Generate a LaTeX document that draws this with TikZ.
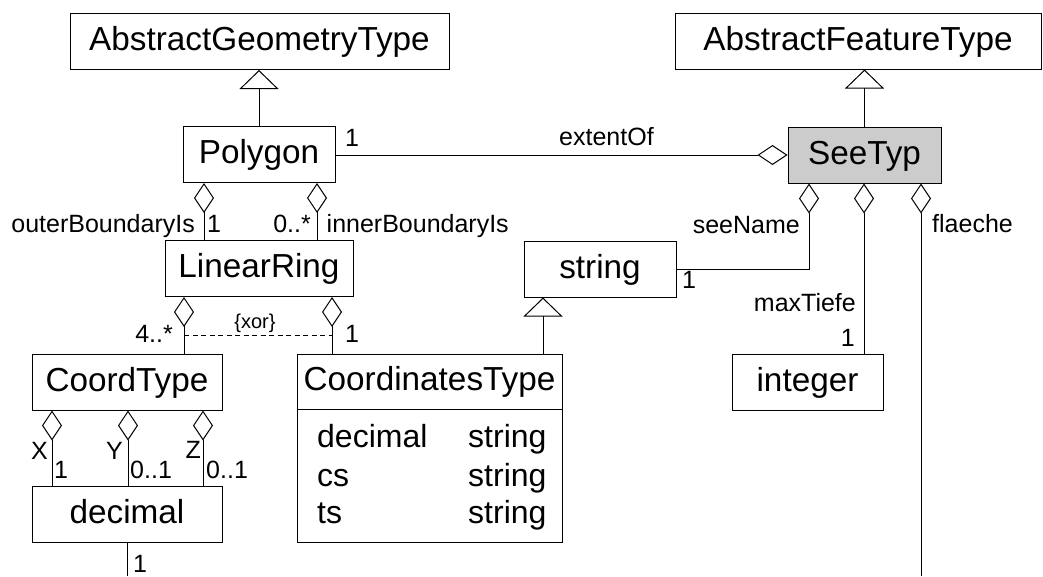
\documentclass[tikz,border=0pt]{standalone}
\usepackage{fontspec}
\setmainfont{Liberation Sans}
\usetikzlibrary{arrows.meta,calc}
\definecolor{seefill}{RGB}{204,204,204}
\begin{document}
\begin{tikzpicture}[x=1pt,y=-1pt,
  conn/.style={line width=1pt},
  box/.style={draw, line width=1pt, inner sep=0pt, minimum height=56pt,
    font=\fontsize{33.3}{40}\selectfont, text height=18pt, text depth=0pt},
  title/.style={inner sep=0pt, font=\fontsize{33.3}{40}\selectfont, text height=18pt, text depth=0pt},
  attr/.style={inner sep=0pt, font=\fontsize{32}{38}\selectfont, anchor=base west},
  lbl/.style={inner sep=0pt, font=\fontsize{25}{30}\selectfont},
  xorlbl/.style={inner sep=0pt, font=\fontsize{20}{24}\selectfont, anchor=base},
  agg/.style={conn, {Diamond[open,length=30pt,width=20pt]}-},
  gen/.style={conn, -{Triangle[open,length=19pt,width=39pt]}}]
\useasboundingbox (0,0) rectangle (1043,576);

% classes
\node[box, minimum width=379pt] (ageo)  at (259.5,41.5) {AbstractGeometryType};
\node[box, minimum width=366pt] (afeat) at (858,41)     {AbstractFeatureType};
\node[box, minimum width=152pt] (poly)  at (259,154.5)  {Polygon};
\node[box, minimum width=153pt, fill=seefill] (see) at (864.5,155) {SeeTyp};
\node[box, minimum width=188pt] (lring) at (259,268.5)  {LinearRing};
\node[box, minimum width=152pt] (str)   at (600,269)    {string};
\node[box, minimum width=190pt] (ctype) at (127,382)    {CoordType};
\node[box, minimum width=151pt] (int)   at (807.5,382)  {integer};
\node[box, minimum width=190pt] (dec)   at (127,514)    {decimal};

% class with attribute compartment
\node[box, minimum width=265pt, minimum height=188pt] (coords) at (429.5,448) {};
\node[title] (coordsT) at ([yshift=-28pt]coords.north) {CoordinatesType};
\draw[conn] ([yshift=-56pt]coords.north west) -- ([yshift=-56pt]coords.north east);
\node[attr] (a1n) at (317,447) {decimal};
\node[attr] (a1t) at (468,447) {string};
\node[attr] (a2n) at (317,486) {cs};
\node[attr] (a2t) at (468,486) {string};
\node[attr] (a3n) at (317,523) {ts};
\node[attr] (a3t) at (468,523) {string};

% attachment points
\coordinate (pA) at ([xshift=-55pt]poly.south);
\coordinate (pB) at ([xshift=58pt]poly.south);
\coordinate (lA) at ([xshift=-75pt]lring.south);
\coordinate (lB) at ([xshift=73pt]lring.south);
\coordinate (cX) at ([xshift=-75pt]ctype.south);
\coordinate (cY) at ([xshift=1pt]ctype.south);
\coordinate (cZ) at ([xshift=76pt]ctype.south);
\coordinate (sA) at ([xshift=-55.5pt]see.south);
\coordinate (sB) at ([xshift=-0.5pt]see.south);
\coordinate (sC) at ([xshift=56.5pt]see.south);
\coordinate (g3) at ([xshift=-57pt]str.south);
\coordinate (flEnd) at (921,576);
\coordinate (decEnd) at (128,576);

% generalizations
\draw[gen] (poly.north) -- (poly.north |- ageo.south);
\draw[gen] (see.north) -- (see.north |- afeat.south);
\draw[gen] (g3 |- coords.north) -- (g3);

% aggregations
\draw[agg] (see.west) -- (see.west -| poly.east);
\draw[agg] (pA) -- (pA |- lring.north);
\draw[agg] (pB) -- (pB |- lring.north);
\draw[agg] (lA) -- (lA |- ctype.north);
\draw[agg] (lB) -- (lB |- coords.north);
\draw[agg] (cX) -- (cX |- dec.north);
\draw[agg] (cY) -- (cY |- dec.north);
\draw[agg] (cZ) -- (cZ |- dec.north);
\draw[agg] (sA) |- (str.east);
\draw[agg] (sB) -- (sB |- int.north);
\draw[agg] (sC) -- (sC |- flEnd);
\draw[conn] (dec.south) -- (dec.south |- decEnd);

% xor constraint
\coordinate (xl) at ([yshift=-38pt]lA);
\coordinate (xr) at ([yshift=-38pt]lB);
\draw[line width=0.8pt, dash pattern=on 5pt off 3.5pt] (xl) -- (xr);
\node[xorlbl] (xor) at ($(xl)!0.5!(xr)+(-3,-6.5)$) {\{xor\}};

% role names and multiplicities
\node[lbl, anchor=base west] (m1)  at (345,146) {1};
\node[lbl, anchor=base west] (r1)  at (559,145) {extentOf};
\node[lbl, anchor=base east] (r2)  at (195,232) {outerBoundaryIs};
\node[lbl, anchor=base west] (m2)  at (207,232) {1};
\node[lbl, anchor=base east] (m3)  at (311,232) {0..*};
\node[lbl, anchor=base west] (r3)  at (326.5,232) {innerBoundaryIs};
\node[lbl, anchor=base east] (m4)  at (173,342) {4..*};
\node[lbl, anchor=base west] (m5)  at (345,342) {1};
\node[lbl, anchor=base east] (r4)  at (800,233) {seeName};
\node[lbl, anchor=base west] (m6)  at (682,288) {1};
\node[lbl, anchor=base west] (r5)  at (932,232) {flaeche};
\node[lbl, anchor=base east] (r6)  at (856,311) {maxTiefe};
\node[lbl, anchor=base east] (m7)  at (855,346) {1};
\node[lbl, anchor=base east] (rX)  at (48,459)  {X};
\node[lbl, anchor=base west] (mX)  at (54,478)  {1};
\node[lbl, anchor=base east] (rY)  at (123,459) {Y};
\node[lbl, anchor=base west] (mY)  at (130,478) {0..1};
\node[lbl, anchor=base east] (rZ)  at (201,458) {Z};
\node[lbl, anchor=base west] (mZ)  at (206,478) {0..1};
\node[lbl, anchor=base west] (m8)  at (133,572) {1};
\end{tikzpicture}
\end{document}
